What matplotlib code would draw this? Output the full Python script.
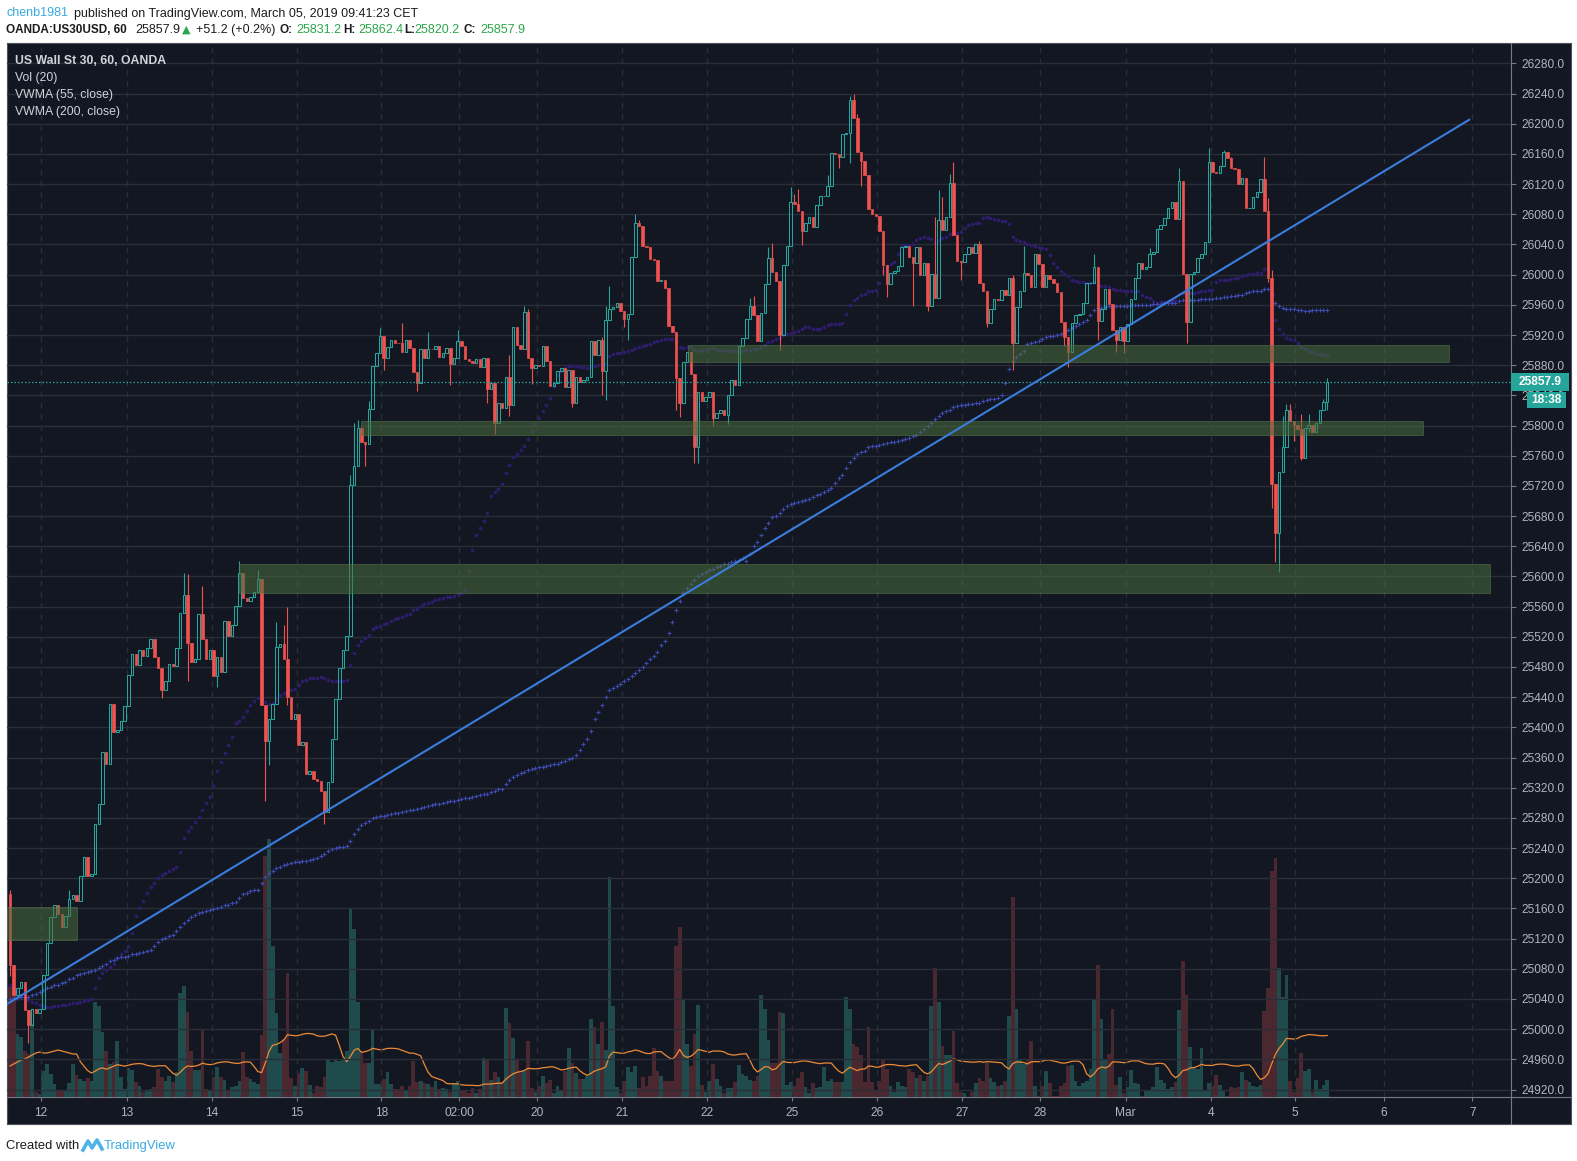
import numpy as np
import pandas as pd
import matplotlib
matplotlib.use('Agg')
import matplotlib.pyplot as plt
from matplotlib.patches import Rectangle
from matplotlib.lines import Line2D
from matplotlib.transforms import blended_transform_factory

plt.rcParams['font.family'] = ['Liberation Sans', 'DejaVu Sans']

W, H = 1577, 1161

# hourly closes, OANDA:US30USD, 11 Feb evening -> 5 Mar 09:00 CET
first_open = 25179.0
closes = [
    25085, 25045, 25054, 25063, 25025, 25005, 25027, 25021, 25027, 25072,
    25114, 25148, 25165, 25152, 25136, 25150, 25172, 25178, 25170, 25203,
    25228, 25203, 25206, 25272, 25299, 25367, 25352, 25431, 25394, 25397,
    25408, 25428, 25469, 25497, 25483, 25503, 25495, 25505, 25517, 25493,
    25479, 25449, 25461, 25484, 25481, 25505, 25551, 25576, 25512, 25486,
    25491, 25550, 25517, 25490, 25502, 25468, 25493, 25473, 25541, 25521,
    25536, 25561, 25605, 25571, 25568, 25573, 25580, 25596, 25430, 25382,
    25411, 25431, 25507, 25511, 25490, 25440, 25411, 25418, 25376, 25381,
    25338, 25342, 25331, 25329, 25316, 25288, 25328, 25384, 25438, 25479,
    25503, 25521, 25721, 25747, 25797, 25778, 25776, 25822, 25879, 25896,
    25919, 25889, 25904, 25913, 25910, 25909, 25898, 25913, 25903, 25871,
    25857, 25902, 25890, 25902, 25901, 25906, 25891, 25896, 25903, 25882,
    25890, 25912, 25906, 25888, 25886, 25883, 25888, 25877, 25890, 25848,
    25857, 25803, 25830, 25823, 25865, 25827, 25931, 25907, 25901, 25951,
    25890, 25876, 25880, 25879, 25906, 25885, 25852, 25856, 25872, 25876,
    25851, 25873, 25830, 25865, 25858, 25860, 25864, 25912, 25894, 25914,
    25872, 25940, 25955, 25957, 25962, 25952, 25941, 25948, 26024, 26068,
    26064, 26038, 26037, 26021, 26019, 25992, 25993, 25982, 25932, 25924,
    25863, 25830, 25884, 25898, 25868, 25772, 25845, 25832, 25838, 25845,
    25810, 25816, 25820, 25814, 25840, 25861, 25854, 25905, 25916, 25941,
    25959, 25947, 25912, 25949, 25988, 26022, 26004, 25992, 25920, 26013,
    26038, 26096, 26094, 26084, 26058, 26069, 26077, 26063, 26092, 26104,
    26104, 26117, 26161, 26160, 26156, 26187, 26188, 26232, 26208, 26162,
    26151, 26132, 26087, 26081, 26078, 26058, 26013, 25987, 26002, 26005,
    26012, 26036, 26038, 26024, 26016, 26036, 26000, 26016, 25958, 26001,
    25969, 26072, 26059, 26076, 26122, 26053, 26018, 26017, 26027, 26036,
    26029, 26041, 25989, 25978, 25936, 25954, 25968, 25966, 25980, 25973,
    25995, 25910, 25957, 25978, 26002, 26000, 25984, 26028, 26014, 25984,
    26000, 25994, 25989, 25977, 25937, 25918, 25898, 25936, 25947, 25948,
    25962, 25989, 25989, 26010, 25938, 25955, 25981, 25961, 25926, 25914,
    25930, 25912, 25935, 25968, 25996, 26016, 26008, 26010, 26028, 26030,
    26061, 26066, 26075, 26089, 26096, 26074, 26124, 26001, 25937, 26001,
    26003, 26022, 26028, 26043, 26149, 26136, 26135, 26144, 26162, 26154,
    26141, 26140, 26120, 26128, 26088, 26089, 26103, 26110, 26127, 26085,
    25995, 25723, 25657, 25739, 25771, 25821, 25806, 25801, 25795, 25757,
    25797, 25801, 25791, 25803, 25820, 25831.2, 25857.9,
]

# wicks that stick out of the bodies (bar index -> price)
highs = {0: 25184, 16: 25185, 47: 25605, 48: 25603, 52: 25588, 62: 25620, 67: 25609,
         72: 25539, 74: 25536, 75: 25559, 92: 25735, 93: 25804, 94: 25808, 97: 25832,
         100: 25929, 106: 25936, 113: 25924, 121: 25927, 135: 25893, 139: 25958,
         140: 25955, 160: 25918, 161: 25958, 162: 25985, 169: 26081, 170: 26073,
         200: 25969, 201: 25972, 205: 26036, 206: 26042, 211: 26116, 212: 26107,
         213: 26114, 221: 26132, 227: 26237, 228: 26240, 229: 26213, 250: 26077,
         251: 26112, 252: 26103, 254: 26133, 255: 26149, 262: 26044, 271: 26000,
         274: 26038, 293: 26027, 308: 26035, 316: 26141, 324: 26168, 328: 26165,
         330: 26156, 339: 26156, 340: 26101, 341: 26006, 344: 25813, 345: 25828,
         346: 25828, 349: 25815, 351: 25815, 355: 25835, 356: 25862.4}
lows = {0: 25070, 5: 24981, 25: 25330, 41: 25439, 48: 25461, 56: 25454, 69: 25303,
        70: 25350, 75: 25430, 85: 25272, 96: 25746, 101: 25874, 110: 25846, 119: 25854,
        129: 25830, 131: 25789, 135: 25813, 141: 25855, 152: 25824, 160: 25840,
        161: 25834, 166: 25930, 167: 25914, 180: 25820, 181: 25811, 185: 25751,
        186: 25751, 190: 25800, 194: 25802, 208: 25900, 214: 26039, 224: 26142,
        227: 26148, 230: 26118, 236: 25999, 237: 25971, 244: 25958, 248: 25952,
        257: 25993, 264: 25930, 271: 25873, 285: 25905, 286: 25878, 294: 25913,
        299: 25898, 301: 25896, 318: 25909, 340: 25990, 341: 25691, 342: 25619,
        343: 25606, 347: 25780, 349: 25755, 351: 25791, 353: 25793, 356: 25820.2}

volume = [
    110, 106, 63, 60, 46, 43, 73, 5, 3, 26,
    33, 23, 13, 6, 6, 6, 14, 33, 22, 18,
    16, 19, 16, 95, 91, 65, 46, 33, 35, 56,
    20, 8, 29, 27, 15, 11, 5, 7, 8, 10,
    28, 20, 16, 21, 15, 25, 104, 111, 85, 46,
    27, 27, 68, 8, 6, 20, 30, 20, 17, 7,
    10, 11, 16, 45, 20, 18, 15, 13, 62, 241,
    258, 151, 84, 44, 58, 124, 19, 11, 24, 29,
    26, 12, 4, 11, 10, 20, 38, 35, 38, 36,
    38, 46, 188, 168, 95, 45, 34, 34, 67, 13,
    13, 18, 25, 13, 8, 8, 11, 6, 11, 36,
    15, 16, 14, 13, 10, 16, 8, 9,
    8, 5, 14, 16, 7, 6, 4, 9, 4, 8,
    39, 37, 17, 25, 20, 15, 89, 74, 59, 37,
    25, 26, 56, 9, 5, 11, 21, 14, 17, 4,
    11, 7, 26, 49, 34, 24, 18, 18, 21, 78,
    70, 53, 75, 47, 220, 91, 10, 4, 16, 30,
    25, 31, 9, 20, 11, 21, 49, 26, 21, 16,
    16, 16, 151, 170, 98, 53, 31, 63, 92, 12,
    5, 16, 33, 18, 11, 4, 9, 9, 15, 32,
    23, 21, 17, 16, 21, 102, 88, 57, 34, 34,
    85, 84, 12, 15, 11, 19, 25, 10, 4, 14,
    9, 10, 30, 16, 18, 15, 15, 15, 100, 88,
    53, 50, 42, 15, 70, 15, 6, 16, 37, 28,
    11, 5, 15, 11, 10, 28, 25, 19, 22, 16,
    21, 91, 129, 95, 51, 42, 42, 66, 14, 5,
    4, 0, 5, 14, 19, 16, 34, 19, 15, 11,
    12, 16, 81, 200, 88, 37, 33, 38, 56, 11,
    1, 11, 26, 14, 1, 1, 11, 14, 31, 32,
    16, 11, 14, 16, 28, 97, 132, 78, 37, 43,
    88, 12, 20, 4, 10, 27, 14, 13, 1, 6,
    7, 10, 30, 17, 14, 8, 10, 15, 87, 136,
    102, 50, 29, 28, 49, 7, 14, 11, 22, 12,
    7, 1, 10, 9, 10, 25, 17, 15, 11, 10,
    12, 86, 109, 226, 239, 129, 100, 122, 16, 5,
    19, 44, 26, 28, 5, 17, 8, 12, 17,
]

# indicator values for the bars before each window fills
# (their history lies left of the visible range)
vol_ma_start = [31, 33, 35, 37, 38, 40, 42, 44, 45, 44,
                44, 45, 46, 47, 46, 45, 44, 43, 43]
vwma55_start = [
    25059, 25055, 25051, 25045, 25042, 25038, 25036, 25034, 25032, 25031,
    25030, 25030, 25031, 25031, 25032, 25032, 25033, 25034, 25035, 25036,
    25037, 25038, 25040, 25055, 25068, 25075, 25079, 25083, 25086, 25094,
    25100, 25104, 25110, 25128, 25150, 25160, 25170, 25180, 25188, 25194,
    25200, 25204, 25207, 25210, 25212, 25215, 25235, 25254, 25263, 25268,
    25274, 25281, 25290, 25300,
]
vwma200_start = [
    25040, 25041, 25041, 25042, 25043, 25043, 25045, 25047, 25049, 25052,
    25054, 25056, 25058, 25059, 25061, 25063, 25066, 25068, 25072, 25073,
    25075, 25076, 25077, 25079, 25081, 25084, 25087, 25090, 25092, 25094,
    25095, 25096, 25097, 25099, 25100, 25101, 25102, 25104, 25105, 25110,
    25115, 25119, 25121, 25123, 25125, 25130, 25136, 25141, 25145, 25148,
    25151, 25154, 25155, 25157, 25158, 25159, 25161, 25162, 25164, 25165,
    25167, 25168, 25174, 25179, 25181, 25183, 25184, 25185, 25194, 25202,
    25207, 25210, 25213, 25215, 25217, 25219, 25220, 25221, 25222, 25223,
    25223, 25224, 25225, 25227, 25229, 25232, 25236, 25239, 25240, 25241,
    25242, 25243, 25250, 25258, 25265, 25270, 25273, 25276, 25280, 25281,
    25282, 25283, 25284, 25285, 25286, 25287, 25288, 25289, 25290, 25291,
    25292, 25293, 25294, 25296, 25297, 25298, 25299, 25300, 25301, 25302,
    25303, 25304, 25305, 25306, 25307, 25308, 25309, 25310, 25311, 25312,
    25314, 25316, 25318, 25318, 25325, 25330, 25334, 25337, 25339, 25341,
    25343, 25345, 25346, 25347, 25348, 25349, 25350, 25351, 25352, 25354,
    25356, 25358, 25360, 25363, 25370, 25378, 25385, 25395, 25411, 25420,
    25430, 25440, 25449, 25452, 25455, 25458, 25461, 25464, 25468, 25472,
    25476, 25480, 25485, 25490, 25495, 25500, 25509, 25515, 25525, 25540,
    25555, 25568, 25578, 25585, 25590, 25595, 25600, 25603, 25606, 25608,
    25610, 25612, 25614, 25616, 25617, 25619, 25621, 25622, 25624,
]

day_ticks = [8.3, 31.5, 54.5, 77.5, 100.4, 121.4, 142.4, 165.5, 188.5, 211.4,
             234.4, 257.4, 278.4, 301.5, 324.5, 347.3, 371.4, 395.2]
day_labels = ['12', '13', '14', '15', '18', '02:00', '20', '21', '22', '25',
              '26', '27', '28', 'Mar', '4', '5', '6', '7']

# drawn objects: zones (start bar, end bar, low, high) and the trend line
zones = [(-0.9, 18.0, 25118, 25162),
         (62.0, 400.0, 25578, 25616),
         (95.0, 381.9, 25788, 25806),
         (183.3, 389.0, 25884, 25907)]
trend_x = [-0.9, 394.6]
trend_y = [25033, 26206]

last_price = 25857.9
countdown = '18:38'
price_ticks = np.arange(24920, 26281, 40)

BG = '#131722'
UP = '#26a69a'
DOWN = '#ef5350'
GRID = '#2a2e39'
AXC = '#787b86'
LBL = '#b2b5be'

# pixel layout
PL, PT, PR, PB = 7, 43, 1511, 1097      # price pane
FR, FB = 1571, 1124                     # outer dark frame
PX_PER_PT = 0.7545


def fx(x):
    return x / W


def fy(y):
    return 1 - y / H


fig = plt.figure(figsize=(W / 100, H / 100), dpi=100)
fig.patch.set_facecolor('white')

frame = fig.add_axes([fx(PL), fy(FB), fx(FR) - fx(PL), fy(PT) - fy(FB)])
frame.set_facecolor(BG)
frame.set_xticks([])
frame.set_yticks([])
for s in frame.spines.values():
    s.set_color('#4c525e')
    s.set_linewidth(0.8)

rect = [fx(PL), fy(PB), fx(PR) - fx(PL), fy(PT) - fy(PB)]
axv = fig.add_axes(rect, zorder=2)
ax = fig.add_axes(rect, zorder=3, sharex=axv)
for a in (axv, ax):
    a.patch.set_visible(False)
    for s in a.spines.values():
        s.set_visible(False)

n = len(closes)
x = np.arange(n)
c = np.array(closes, dtype=float)
o = np.concatenate([[first_open], c[:-1]])
top = np.maximum(o, c)
bot = np.minimum(o, c)
hi = top.copy()
lo = bot.copy()
for k, v in highs.items():
    hi[k] = max(hi[k], v)
for k, v in lows.items():
    lo[k] = min(lo[k], v)
up = c >= o
vol = np.array(volume, dtype=float)

# grid
for p in price_ticks:
    ax.axhline(p, color=GRID, lw=1.0, zorder=0)
for t in day_ticks:
    ax.axvline(t, color=GRID, lw=1.0, ls=(0, (4, 4)), zorder=0)

# volume + MA(20)
vcol = np.where(up, '#1f4b4d', '#4b2830')
axv.bar(x, vol, width=1.0, color=vcol, linewidth=0, zorder=1)
vol_ma = pd.Series(vol).rolling(20).mean().to_numpy()
vol_ma[:len(vol_ma_start)] = vol_ma_start
axv.plot(x, vol_ma, color='#ec8b37', lw=0.9, zorder=2)
axv.set_ylim(0, PB - PT)
axv.set_yticks([])
axv.tick_params(axis='x', bottom=False, labelbottom=False)

# VWMA 55 / 200
s_c = pd.Series(c)
s_v = pd.Series(vol)
vwma55 = ((s_c * s_v).rolling(55).sum() / s_v.rolling(55).sum()).to_numpy()
vwma55[:len(vwma55_start)] = vwma55_start
vwma200 = ((s_c * s_v).rolling(200).sum() / s_v.rolling(200).sum()).to_numpy()
vwma200[:len(vwma200_start)] = vwma200_start
ax.plot(x, vwma55, ls='none', marker='o', ms=2.6, mec='none', color='#2e1d6c', zorder=2)
ax.plot(x, vwma200, ls='none', marker='+', ms=3.0, mew=0.8, color='#3d4aae', zorder=2)

# candles: hollow up, filled down
for m, col in ((up, UP), (~up, DOWN)):
    ax.vlines(x[m], top[m], hi[m], color=col, lw=0.8, zorder=3)
    ax.vlines(x[m], lo[m], bot[m], color=col, lw=0.8, zorder=3)
ax.bar(x[up], (c - o)[up], bottom=o[up], width=0.7, facecolor='none',
       edgecolor=UP, linewidth=0.75, zorder=4)
ax.bar(x[~up], (o - c)[~up], bottom=c[~up], width=0.7, facecolor=DOWN,
       edgecolor=DOWN, linewidth=0.5, zorder=4)

# drawings
ax.plot(trend_x, trend_y, color='#3b7ddd', lw=1.5, zorder=6, solid_capstyle='butt')
for x0, x1, p0, p1 in zones:
    ax.add_patch(Rectangle((x0, p0), x1 - x0, p1 - p0, facecolor='#4a6e3e',
                           alpha=0.55, edgecolor='#5f8250', linewidth=0.6, zorder=5))

ax.axhline(last_price, color=UP, lw=0.9, ls=(0, (1.2, 1.6)), zorder=4)

ax.set_xlim((PL - 10) / 3.7, (PR - 10) / 3.7)
ax.set_ylim(24920 - (PB - 1089.5) / PX_PER_PT, 26280 + (63.4 - PT) / PX_PER_PT)

ax.yaxis.tick_right()
ax.set_yticks(price_ticks)
ax.set_yticklabels([f'{p:.1f}' for p in price_ticks])
ax.tick_params(axis='y', colors=AXC, labelcolor=LBL, length=3.6, width=0.8,
               pad=4.0, labelsize=8.6)
ax.set_xticks(day_ticks)
ax.set_xticklabels(day_labels)
ax.tick_params(axis='x', colors=AXC, labelcolor=LBL, length=3, width=0.8,
               pad=4, labelsize=8.6)

# price tag and countdown on the price scale
tr = blended_transform_factory(fig.transFigure, ax.transData)
u = 1 / PX_PER_PT
ax.add_patch(Rectangle((fx(PR), last_price - 9 * u), fx(1569) - fx(PR), 18 * u,
                       transform=tr, facecolor=UP, edgecolor='none', zorder=10,
                       clip_on=False))
ax.text(fx(1540), last_price, f'{last_price:.1f}', transform=tr, ha='center',
        va='center', color='white', fontsize=8.6, fontweight='bold', zorder=11,
        clip_on=False)
ax.add_patch(Rectangle((fx(1527), last_price - 26 * u), fx(1566) - fx(1527), 16 * u,
                       transform=tr, facecolor=UP, edgecolor='none', zorder=10,
                       clip_on=False))
ax.text(fx(1546.5), last_price - 18 * u, countdown, transform=tr, ha='center',
        va='center', color='white', fontsize=8.6, fontweight='bold', zorder=11,
        clip_on=False)

# axis borders
fig.add_artist(Line2D([fx(PR), fx(PR)], [fy(PT), fy(FB)], color=AXC, lw=0.8))
fig.add_artist(Line2D([fx(PL), fx(FR)], [fy(PB), fy(PB)], color=AXC, lw=0.8))

# legend inside chart
legend_lines = [('US Wall St 30, 60, OANDA', 61, 'bold'),
                ('Vol (20)', 78, 'normal'),
                ('VWMA (55, close)', 95, 'normal'),
                ('VWMA (200, close)', 111.5, 'normal')]
for txt, yy, wt in legend_lines:
    fig.text(fx(15), fy(yy), txt, color='#d1d4dc', fontsize=8.8, fontweight=wt,
             ha='left', va='center')

# header
DARK = '#1c1c1c'
GREEN = '#2aa64a'
fig.text(fx(6.4), fy(13.5), 'chenb1981', color='#3aa9e0', fontsize=9.0,
         ha='left', va='center')
fig.text(fx(74.3), fy(13.5), 'published on TradingView.com, March 05, 2019 09:41:23 CET',
         color=DARK, fontsize=9.0, ha='left', va='center')
header2 = [(6.4, 'OANDA:US30USD, 60', DARK, 'bold'),
           (135, '25857.9', DARK, 'normal'),
           (182, '\u25b2', GREEN, 'normal'),
           (195.7, '+51.2 (+0.2%)', DARK, 'normal'),
           (279.3, 'O:', DARK, 'bold'),
           (296, '25831.2', GREEN, 'normal'),
           (343.6, 'H:', DARK, 'bold'),
           (358, '25862.4', GREEN, 'normal'),
           (404, 'L:', DARK, 'bold'),
           (414, '25820.2', GREEN, 'normal'),
           (463, 'C:', DARK, 'bold'),
           (480, '25857.9', GREEN, 'normal')]
for xx, txt, col, wt in header2:
    fam = ['DejaVu Sans'] if txt == '\u25b2' else None
    size = 8.5 if wt == 'bold' else 9.0
    if fam:
        size = 8.0
    fig.text(fx(xx), fy(30), txt, color=col, fontsize=size, fontweight=wt,
             ha='left', va='center', family=fam)

# footer
fig.text(fx(6.4), fy(1146), 'Created with', color=DARK, fontsize=9.4,
         ha='left', va='center')
fig.add_artist(Line2D([fx(83), fx(88), fx(92), fx(97), fx(102)],
                      [fy(1150), fy(1141), fy(1148), fy(1140), fy(1149)],
                      color='#4fb3e8', lw=2.6, solid_joinstyle='round'))
fig.text(fx(104), fy(1146), 'TradingView', color='#3aa9e0', fontsize=9.4,
         ha='left', va='center')

fig.savefig('out.png', dpi=100, facecolor=fig.get_facecolor())
